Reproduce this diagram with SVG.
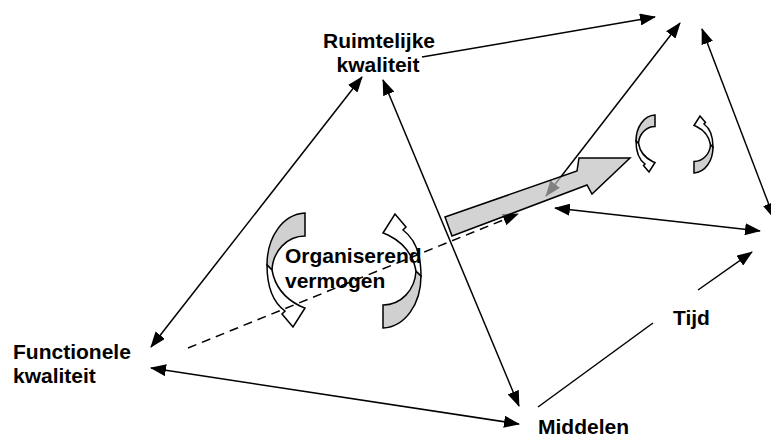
<svg xmlns="http://www.w3.org/2000/svg" width="771" height="437" viewBox="0 0 771 437">
  <defs>
    <style>
      .lbl { font-family: "Liberation Sans", Arial, sans-serif; font-weight: bold; font-size: 21px; fill: #000; }
      .ln { stroke: #000; stroke-width: 1.5; fill: none; }
      .dash { stroke-dasharray: 9 6; }
      .curl path { stroke: #000; stroke-width: 1.5; stroke-linejoin: miter; }
      .back { fill: #d0d0d0; }
      .front { fill: #fff; }
    </style>
    <marker id="ah" viewBox="0 0 16 12" refX="15" refY="6" markerWidth="16" markerHeight="12" markerUnits="userSpaceOnUse" orient="auto-start-reverse">
      <path d="M0,0 L16,6 L0,12 Z" fill="#000"/>
    </marker>
    <!-- curled ribbon arrow, flat end at the origin, head pointing down -->
    <g id="curl" class="curl">
      <path class="back" vector-effect="non-scaling-stroke" d="M0,0 C-22,1 -38,24 -38,52 L-33,57 C-32,38 -18,23 0,23 Z"/>
      <path class="front" vector-effect="non-scaling-stroke" d="M-38,52 C-38,74 -31,90 -20,98 L-23,101 L-12,114 L0,95 L-5,93 C-19,86 -30,74 -33,57 Z"/>
    </g>
  </defs>
  <rect width="771" height="437" fill="#fff"/>

  <!-- rotation symbols -->
  <g id="curl-left-large"><use href="#curl" transform="translate(305,213)"/></g>
  <g id="curl-right-large"><use href="#curl" transform="translate(383,328) rotate(180)"/></g>
  <g id="curl-left-small"><use href="#curl" transform="translate(655,115) scale(0.5)"/></g>
  <g id="curl-right-small"><use href="#curl" transform="translate(694,173) rotate(180) scale(0.5)"/></g>

  <g id="connectors">
    <line class="ln" x1="151" y1="347" x2="362" y2="77" marker-start="url(#ah)" marker-end="url(#ah)"/>
    <line class="ln" x1="383" y1="80" x2="519" y2="406" marker-start="url(#ah)" marker-end="url(#ah)"/>
    <line class="ln" x1="151" y1="368" x2="519" y2="424" marker-start="url(#ah)" marker-end="url(#ah)"/>
    <line class="ln" x1="422" y1="57" x2="655" y2="17" marker-end="url(#ah)"/>
    <line class="ln" x1="680" y1="23" x2="546" y2="196" marker-start="url(#ah)" marker-end="url(#ah)"/>
    <line class="ln" x1="555" y1="208" x2="760" y2="231" marker-start="url(#ah)" marker-end="url(#ah)"/>
    <line class="ln" x1="702" y1="29" x2="774" y2="218" marker-start="url(#ah)" marker-end="url(#ah)"/>
    <line class="ln dash" x1="188" y1="348" x2="518" y2="214" marker-end="url(#ah)"/>
    <line class="ln" x1="538" y1="407" x2="653" y2="323"/>
    <line class="ln" x1="698" y1="290" x2="752" y2="252" marker-end="url(#ah)"/>
  </g>

  <!-- block arrow -->
  <g id="block-arrow">
    <path d="M445,217 L577,171 L579,158 L630,158 L592,194 L587,185 L452,236 Z" fill="#bebebe" fill-opacity="0.68" stroke="#000" stroke-width="1.5" stroke-linejoin="miter"/>
  </g>

  <g id="ruimtelijke"><text class="lbl" x="379" y="48" text-anchor="middle">Ruimtelijke</text><text class="lbl" x="378" y="72" text-anchor="middle">kwaliteit</text></g>
  <g id="functionele"><text class="lbl" x="13" y="359">Functionele</text><text class="lbl" x="13" y="383">kwaliteit</text></g>
  <g id="middelen"><text class="lbl" x="538" y="434">Middelen</text></g>
  <g id="tijd"><text class="lbl" x="673" y="325">Tijd</text></g>
  <g id="organiserend"><text class="lbl" x="285" y="263">Organiserend</text><text class="lbl" x="285" y="288">vermogen</text></g>
</svg>
